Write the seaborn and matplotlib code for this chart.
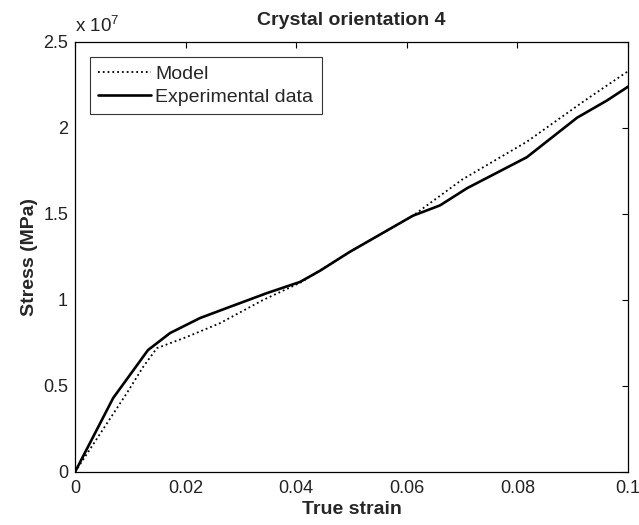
import matplotlib
matplotlib.use("Agg")
import matplotlib.pyplot as plt
import matplotlib.transforms as mtransforms
import seaborn as sns
import pandas as pd
from matplotlib.ticker import FuncFormatter, MultipleLocator

exp_strain = [0.0, 0.0069, 0.0132, 0.0172, 0.0226, 0.028, 0.0347, 0.0407, 0.0443, 0.0497,
              0.0611, 0.066, 0.0709, 0.0817, 0.0908, 0.0962, 0.1]
exp_stress = [0.0, 4.3e6, 7.09e6, 8.08e6, 8.95e6, 9.6e6, 1.04e7, 1.105e7, 1.17e7, 1.28e7,
              1.49e7, 1.55e7, 1.65e7, 1.83e7, 2.06e7, 2.16e7, 2.24e7]
model_strain = [0.0, 0.0094, 0.0123, 0.0148, 0.0202, 0.0262, 0.034, 0.0407, 0.05, 0.0611,
                0.07, 0.0817, 0.0922, 0.1]
model_stress = [0.0, 4.6e6, 6.1e6, 7.2e6, 7.85e6, 8.65e6, 1.0e7, 1.1e7, 1.285e7, 1.49e7,
                1.7e7, 1.92e7, 2.16e7, 2.33e7]

sns.set_theme(style="white")
plt.rcParams['font.family'] = ['Liberation Sans', 'DejaVu Sans']
plt.rcParams['mathtext.default'] = 'regular'

fig = plt.figure(figsize=(6.39, 5.25), dpi=100)
ax = fig.add_axes([75/639, 1-472/525, (628-75)/639, (472-42)/525])

df_m = pd.DataFrame({"strain": model_strain, "stress": model_stress})
df_e = pd.DataFrame({"strain": exp_strain, "stress": exp_stress})
sns.lineplot(data=df_m, x="strain", y="stress", ax=ax, color="black", linestyle=":",
             linewidth=1.3, label="Model", sort=False)
sns.lineplot(data=df_e, x="strain", y="stress", ax=ax, color="black", linestyle="-",
             linewidth=1.9, label="Experimental data", sort=False)

ax.set_xlim(0, 0.1)
ax.set_ylim(0, 2.5e7)
ax.xaxis.set_major_locator(MultipleLocator(0.02))
ax.yaxis.set_major_locator(MultipleLocator(0.5e7))
ax.xaxis.set_major_formatter(FuncFormatter(lambda v, p: f"{v:g}"))
ax.yaxis.set_major_formatter(FuncFormatter(lambda v, p: f"{v/1e7:g}"))
ax.tick_params(direction="in", length=4, width=0.8, top=True, right=True,
               labelsize=13, colors="black")
ax.tick_params(axis="x", pad=6)
ax.tick_params(axis="y", pad=5)
fig.canvas.draw()
xlabels = ax.get_xticklabels()
for lab in xlabels + ax.get_yticklabels():
    lab.set_color("#222222")
xlabels[-1].set_transform(xlabels[-1].get_transform() +
                          mtransforms.ScaledTranslation(-3/100, 0, fig.dpi_scale_trans))
for s in ax.spines.values():
    s.set_color("black")
    s.set_linewidth(0.9)

ax.set_xlabel("True strain", fontsize=14, fontweight="bold", labelpad=3)
ax.set_ylabel("Stress (MPa)", fontsize=14, fontweight="bold", labelpad=4)
ax.set_title("Crystal orientation 4", fontsize=14, fontweight="bold", pad=12)
ax.text(0.0, 1.014, r"x 10$^{7}$", transform=ax.transAxes, fontsize=13.5, ha="left",
        va="bottom", color="#222222")

leg = ax.legend(loc="upper left", bbox_to_anchor=(0.027, 0.965), fontsize=14, frameon=True,
                fancybox=False, edgecolor="black", handlelength=2.7, handletextpad=0.25,
                borderpad=0.42, labelspacing=0.3, borderaxespad=0)
leg.get_frame().set_linewidth(0.8)

fig.savefig("out.png", dpi=100)
